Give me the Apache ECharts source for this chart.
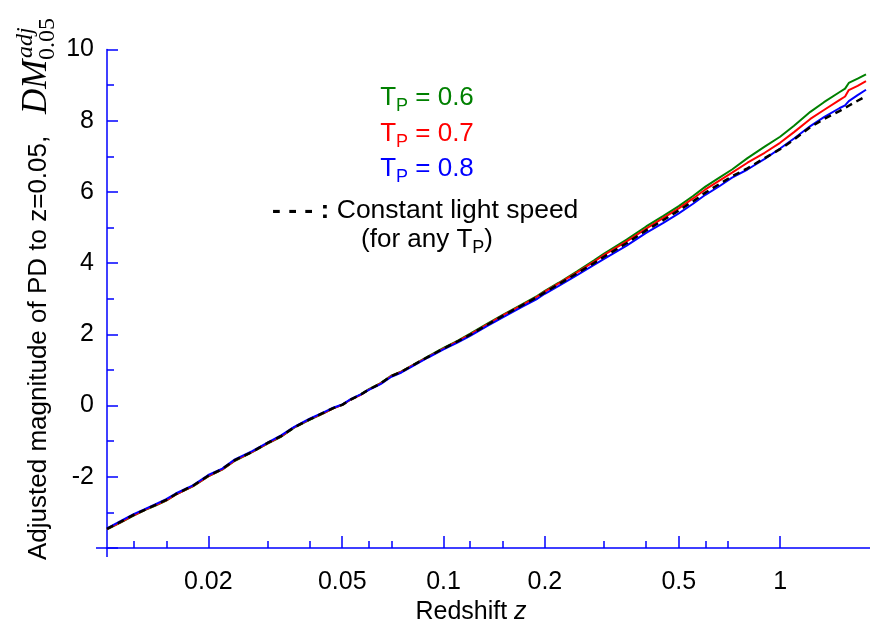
<!DOCTYPE html>
<html>
<head>
<meta charset="utf-8">
<script src="https://cdn.jsdelivr.net/npm/echarts@6/dist/echarts.min.js"></script>
<style>
  html, body { margin: 0; padding: 0; background: #fff; }
  #main { width: 870px; height: 630px; }
</style>
</head>
<body>
<div id="main"></div>
<script>
// redshift values (x)
var zValues = [0.01, 0.011, 0.012, 0.013, 0.014, 0.015, 0.016, 0.018, 0.02, 0.022, 0.024, 0.027,
  0.03, 0.033, 0.036, 0.04, 0.044, 0.047, 0.05, 0.053, 0.057, 0.06, 0.065, 0.07, 0.075, 0.08,
  0.09, 0.1, 0.11, 0.12, 0.135, 0.15, 0.17, 0.19, 0.2, 0.22, 0.25, 0.28, 0.3, 0.35, 0.4, 0.45,
  0.5, 0.55, 0.6, 0.66, 0.72, 0.8, 0.9, 1.0, 1.1, 1.23, 1.35, 1.5, 1.56, 1.6, 1.7, 1.8];

// adjusted magnitude for each T_P
var dmTp06 = [-3.48, -3.28, -3.09, -2.93, -2.8, -2.67, -2.5, -2.27, -1.99, -1.8, -1.55, -1.31,
  -1.07, -0.87, -0.62, -0.4, -0.22, -0.08, 0.02, 0.17, 0.32, 0.46, 0.63, 0.84, 0.96, 1.11,
  1.38, 1.62, 1.82, 2.02, 2.3, 2.55, 2.83, 3.08, 3.22, 3.45, 3.78, 4.08, 4.27, 4.66, 5.03, 5.33,
  5.6, 5.88, 6.15, 6.4, 6.63, 6.95, 7.27, 7.55, 7.86, 8.25, 8.52, 8.8, 8.9, 9.06, 9.18, 9.3];
var dmTp07 = [-3.47, -3.27, -3.08, -2.92, -2.79, -2.66, -2.5, -2.26, -1.98, -1.79, -1.54, -1.3,
  -1.06, -0.86, -0.61, -0.39, -0.21, -0.08, 0.02, 0.17, 0.31, 0.45, 0.62, 0.83, 0.95, 1.1,
  1.37, 1.6, 1.8, 2.0, 2.28, 2.53, 2.81, 3.06, 3.2, 3.43, 3.75, 4.04, 4.23, 4.61, 4.97, 5.27,
  5.54, 5.81, 6.07, 6.32, 6.54, 6.82, 7.1, 7.38, 7.68, 8.05, 8.3, 8.58, 8.68, 8.86, 8.98, 9.11];
var dmTp08 = [-3.45, -3.24, -3.05, -2.9, -2.76, -2.63, -2.47, -2.24, -1.95, -1.77, -1.51, -1.28,
  -1.04, -0.83, -0.6, -0.37, -0.19, -0.06, 0.03, 0.18, 0.32, 0.44, 0.6, 0.81, 0.93, 1.08,
  1.35, 1.58, 1.77, 1.96, 2.24, 2.48, 2.76, 3.0, 3.14, 3.36, 3.67, 3.95, 4.12, 4.49, 4.85, 5.13,
  5.4, 5.66, 5.92, 6.16, 6.4, 6.63, 6.93, 7.22, 7.5, 7.85, 8.1, 8.35, 8.43, 8.55, 8.72, 8.87];
// constant light speed
var dmConst = [-3.46, -3.26, -3.07, -2.92, -2.78, -2.65, -2.49, -2.25, -1.97, -1.78, -1.53, -1.3,
  -1.05, -0.85, -0.61, -0.39, -0.2, -0.07, 0.02, 0.17, 0.32, 0.45, 0.62, 0.83, 0.95, 1.1,
  1.37, 1.6, 1.8, 1.99, 2.27, 2.52, 2.8, 3.05, 3.18, 3.41, 3.72, 4.0, 4.18, 4.56, 4.92, 5.21,
  5.48, 5.73, 5.98, 6.22, 6.44, 6.66, 6.95, 7.2, 7.47, 7.82, 8.05, 8.27, 8.36, 8.42, 8.56, 8.69];

// axis ticks
var zMin = 0.01;
var zMax = 1.85;
var zMajorTicks = [0.02, 0.05, 0.1, 0.2, 0.5, 1];
var zMinorTicks = [0.012, 0.015, 0.03, 0.04, 0.06, 0.07, 0.12, 0.15, 0.3, 0.4, 0.6, 0.7];
var yTicks = [-2, 0, 2, 4, 6, 8, 10];

var FONT = 'Liberation Sans, Arial, sans-serif';
var SERIF = 'Liberation Serif, Times New Roman, serif';
var AXIS_BLUE = '#0000ff';

function lg(v) { return Math.log(v) / Math.LN10; }

//把 z 换成 log10(z) 的点
function toPoints(ys) {
  var out = [];
  for (var i = 0; i < zValues.length; i++) {
    out.push([lg(zValues[i]), ys[i]]);
  }
  return out;
}

function lineSeries(name, ys, color, type, width) {
  return {
    name: name,
    type: 'line',
    data: toPoints(ys),
    showSymbol: false,
    symbol: 'none',
    smooth: false,
    silent: true,
    lineStyle: { color: color, width: width, type: type }
  };
}

function legendLine(y, color, rest) {
  return { type: 'text', x: 427, y: y, silent: true,
    style: {
      text: '{a|T}{s|P}{a|' + rest + '}', align: 'center', verticalAlign: 'middle',
      rich: {
        a: { fontSize: 26, fontFamily: FONT, fill: color, lineHeight: 34 },
        s: { fontSize: 18, fontFamily: FONT, fill: color, lineHeight: 16, verticalAlign: 'bottom' }
      }
    } };
}

var myChart = echarts.init(document.getElementById('main'));

var option = {
  animation: false,
  backgroundColor: '#fff',
  grid: { left: 107, top: 49.5, width: 763, height: 498.5, containLabel: false },
  xAxis: [{
    type: 'value',
    min: lg(zMin),
    max: lg(zMax),
    position: 'bottom',
    axisLine: { show: true, onZero: false, lineStyle: { color: AXIS_BLUE, width: 1.5 } },
    axisTick: {
      show: true, inside: true, length: 12,
      customValues: zMajorTicks.map(lg),
      lineStyle: { color: AXIS_BLUE, width: 1.5 }
    },
    axisLabel: {
      show: true, margin: 22, color: '#000', fontSize: 25, fontFamily: FONT,
      customValues: zMajorTicks.map(lg),
      formatter: function (v) { return String(Number(Math.pow(10, v).toPrecision(2))); }
    },
    splitLine: { show: false }
  }, {
    type: 'value',
    min: lg(zMin),
    max: lg(zMax),
    position: 'bottom',
    axisLine: { show: false, onZero: false },
    axisTick: {
      show: true, inside: true, length: 7,
      customValues: zMinorTicks.map(lg),
      lineStyle: { color: AXIS_BLUE, width: 1.5 }
    },
    axisLabel: { show: false },
    splitLine: { show: false }
  }],
  yAxis: {
    type: 'value',
    min: -4,
    max: 10,
    interval: 2,
    axisLine: { show: true, onZero: false, lineStyle: { color: AXIS_BLUE, width: 1.5 } },
    axisTick: { show: true, inside: true, length: 11, lineStyle: { color: AXIS_BLUE, width: 1.5 } },
    minorTick: { show: true, splitNumber: 2, length: 7, lineStyle: { color: AXIS_BLUE, width: 1.5 } },
    axisLabel: {
      margin: 13, color: '#000', fontSize: 25, fontFamily: FONT,
      formatter: function (v) { return yTicks.indexOf(v) >= 0 ? String(v) : ''; }
    },
    splitLine: { show: false }
  },
  series: [
    lineSeries('T_P = 0.6', dmTp06, '#008000', 'solid', 2),
    lineSeries('T_P = 0.7', dmTp07, '#ff0000', 'solid', 2),
    lineSeries('T_P = 0.8', dmTp08, '#0000ff', 'solid', 2),
    lineSeries('Constant light speed', dmConst, '#000000', [7, 5], 2.5)
  ],
  graphic: [
    // 轴线在原点处的小延伸
    { type: 'line', silent: true, shape: { x1: 107, y1: 548, x2: 107, y2: 557 },
      style: { stroke: AXIS_BLUE, lineWidth: 1.5 } },
    { type: 'line', silent: true, shape: { x1: 96, y1: 548, x2: 107, y2: 548 },
      style: { stroke: AXIS_BLUE, lineWidth: 1.5 } },
    // x axis title
    { type: 'text', x: 471, y: 612, silent: true,
      style: {
        text: '{a|Redshift }{i|z}', align: 'center', verticalAlign: 'middle',
        rich: {
          a: { fontSize: 25, fontFamily: FONT, fill: '#000' },
          i: { fontSize: 25, fontFamily: FONT, fontStyle: 'italic', fill: '#000' }
        }
      } },
    // y axis title (rotated)
    { type: 'group', x: 39, y: 560, rotation: Math.PI / 2, silent: true, children: [
      { type: 'text', x: 0, y: 0,
        style: { text: 'Adjusted magnitude of PD to z=0.05,', fontSize: 26, fontFamily: FONT,
          fill: '#000', align: 'left', verticalAlign: 'middle' } },
      { type: 'text', x: 446, y: -2,
        style: { text: 'DM', fontSize: 35, fontFamily: SERIF, fontStyle: 'italic',
          fill: '#000', align: 'left', verticalAlign: 'middle' } },
      { type: 'text', x: 502, y: -13,
        style: { text: 'adj', fontSize: 24, fontFamily: SERIF, fontStyle: 'italic',
          fill: '#000', align: 'left', verticalAlign: 'middle' } },
      { type: 'text', x: 500, y: 9,
        style: { text: '0.05', fontSize: 24, fontFamily: SERIF,
          fill: '#000', align: 'left', verticalAlign: 'middle' } }
    ] },
    // legend written inside the plot
    legendLine(98, '#008000', ' = 0.6'),
    legendLine(134, '#ff0000', ' = 0.7'),
    legendLine(169, '#0000ff', ' = 0.8'),
    { type: 'text', x: 272, y: 211, silent: true,
      style: {
        text: '{b|- - - :}{a| Constant light speed}', align: 'left', verticalAlign: 'middle',
        rich: {
          a: { fontSize: 26.5, fontFamily: FONT, fill: '#000' },
          b: { fontSize: 26.5, fontFamily: FONT, fontWeight: 'bold', fill: '#000' }
        }
      } },
    { type: 'text', x: 427, y: 240, silent: true,
      style: {
        text: '{a|(for any T}{s|P}{a|)}', align: 'center', verticalAlign: 'middle',
        rich: {
          a: { fontSize: 26, fontFamily: FONT, fill: '#000', lineHeight: 34 },
          s: { fontSize: 18, fontFamily: FONT, fill: '#000', lineHeight: 16, verticalAlign: 'bottom' }
        }
      } }
  ]
};

myChart.setOption(option);
</script>
</body>
</html>
